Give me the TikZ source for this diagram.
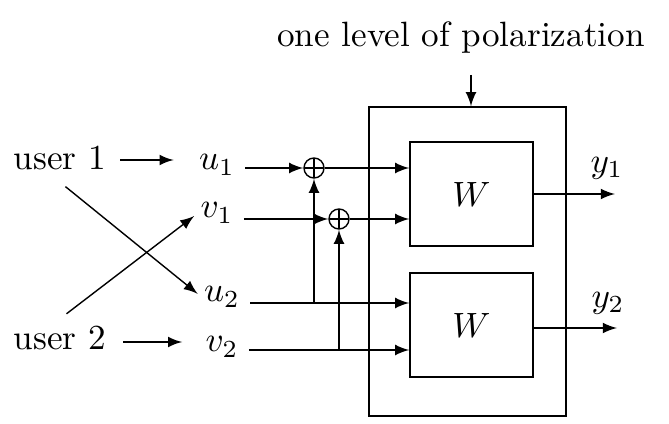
\documentclass[tikz,border=0pt]{standalone}
\usepackage{tikz}
\usepackage{amsmath}
\tikzset{
  lbl/.style={inner sep=3.3pt},
  sig/.style={inner sep=0.5pt},
  wbox/.style={draw, minimum width=12.3mm, minimum height=10.4mm, inner sep=0pt},
  levelbox/.style={draw, minimum width=19.7mm, minimum height=30.9mm, inner sep=0pt},
  adder/.style={circle, draw, minimum size=2mm, inner sep=0pt,
               path picture={\draw (path picture bounding box.north) -- (path picture bounding box.south)
                                   (path picture bounding box.west) -- (path picture bounding box.east);}},
  link/.style={->, >=latex},
}

\begin{document}
\begin{tikzpicture}
    \useasboundingbox (0,0) rectangle (6.69,4.24);
    \node[lbl] (title) at (4.61, 3.86) {one level of polarization};
    \node[levelbox] (outer) at (4.675, 1.625) {};
    \node[wbox] (w1) at (4.715, 2.30) {$W$};
    \node[wbox] (w2) at (4.715, 0.99) {$W$};
    \node[lbl] (user1) at (0.60, 2.66) {user 1};
    \node[lbl] (user2) at (0.60, 0.86) {user 2};
    \node[sig] (u1) at (2.17, 2.59) {$u_1$};
    \node[sig] (v1) at (2.17, 2.11) {$v_1$};
    \node[sig] (u2) at (2.22, 1.27) {$u_2$};
    \node[sig] (v2) at (2.22, 0.77) {$v_2$};
    \node[adder] (a1) at (3.14, 2.56) {};
    \node[adder] (a2) at (3.39, 2.05) {};
    \coordinate (j1) at (3.14, 1.21);
    \coordinate (j2) at (3.39, 0.74);
    \coordinate (pol) at (4.71, 3.49);
    \coordinate (y1end) at (6.15, 2.30);
    \coordinate (y2end) at (6.17, 0.96);
    \node[lbl] (y1) at (6.07, 2.56) {$y_1$};
    \node[lbl] (y2) at (6.08, 1.21) {$y_2$};
    % users to inputs
    \draw[link, shorten <=0.2mm, shorten >=2.3mm] (user1.east |- 0,2.64) -- (u1.west |- 0,2.64);
    \draw[link, shorten <=0.5mm, shorten >=2.1mm] (user2.east |- 0,0.82) -- (v2.west |- 0,0.82);
    \draw[link, shorten <=0.7mm, shorten >=0.5mm] (user1.south) -- (u2.west);
    \draw[link, shorten >=0.5mm] (user2.75) -- (v1.west);
    % inputs into the adders and boxes
    \draw[link] (u1.east |- a1) ++(0.08,0) -- (a1);
    \draw[link] (v1.east |- a2) ++(0.08,0) -- (a2);
    \draw[link] (a1) -- (w1.west |- a1);
    \draw[link] (a2) -- (w1.west |- a2);
    \draw[link] (u2.east |- j1) ++(0.08,0) -- (w2.west |- j1);
    \draw[link] (v2.east |- j2) ++(0.08,0) -- (w2.west |- j2);
    \draw[link] (j1) -- (a1);
    \draw[link] (j2) -- (a2);
    % outputs
    \draw[link] (pol) -- (pol |- outer.north);
    \draw[link] (w1.east) -- (y1end);
    \draw[link] (w2.east |- y2end) -- (y2end);
\end{tikzpicture}
\end{document}
